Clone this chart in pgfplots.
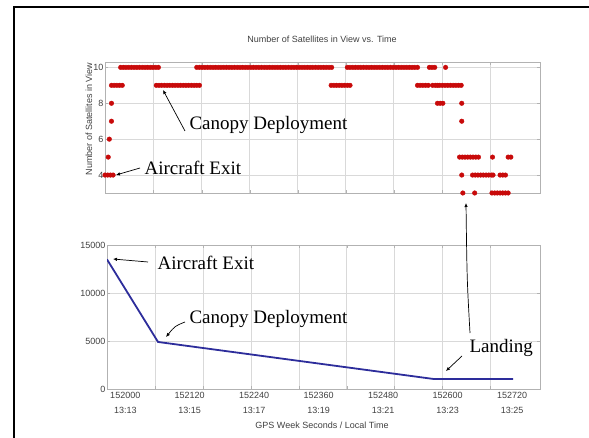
\documentclass[border=0pt]{standalone}
\usepackage{pgfplots}
\pgfplotsset{compat=1.18}
\usepackage{pgfplotstable}
\usepackage{fontspec}
\setmainfont{Liberation Serif}
\newfontfamily\arial{Liberation Sans}
\usetikzlibrary{arrows.meta}

\definecolor{satred}{RGB}{200,10,10}
\definecolor{altblue}{RGB}{45,45,155}

% satellites in view (GPS week seconds, count)
\pgfplotstableread{
t n
151966 4
151971 4
151976 4
151981 4
151972 5
151974 6
151978 7
151978 8
151978 9
151983 9
151988 9
151993 9
151998 9
151995 10
152000 10
152005 10
152010 10
152015 10
152020 10
152025 10
152030 10
152035 10
152040 10
152045 10
152050 10
152055 10
152060 10
152065 10
152061 9
152066 9
152071 9
152076 9
152081 9
152086 9
152091 9
152096 9
152101 9
152106 9
152111 9
152116 9
152121 9
152126 9
152131 9
152136 9
152141 9
152136 10
152141 10
152146 10
152151 10
152156 10
152161 10
152166 10
152171 10
152176 10
152181 10
152186 10
152191 10
152196 10
152201 10
152206 10
152211 10
152216 10
152221 10
152226 10
152231 10
152236 10
152241 10
152246 10
152251 10
152256 10
152261 10
152266 10
152271 10
152276 10
152281 10
152286 10
152291 10
152296 10
152301 10
152306 10
152311 10
152316 10
152321 10
152326 10
152331 10
152336 10
152341 10
152346 10
152351 10
152356 10
152361 10
152366 10
152371 10
152376 10
152381 10
152386 10
152385 9
152390 9
152395 9
152400 9
152405 9
152410 9
152415 9
152420 9
152415 10
152420 10
152425 10
152430 10
152435 10
152440 10
152445 10
152450 10
152455 10
152460 10
152465 10
152470 10
152475 10
152480 10
152485 10
152490 10
152495 10
152500 10
152505 10
152510 10
152515 10
152520 10
152525 10
152530 10
152535 10
152540 10
152545 10
152545 9
152550 9
152555 9
152560 9
152565 9
152567 10
152572 10
152577 10
152573 9
152578 9
152582 9
152582 8
152587 8
152592 8
152586 9
152591 9
152596 9
152601 9
152606 9
152611 9
152616 9
152621 9
152626 9
152597 10
152627 8
152627 7
152623 5
152628 5
152633 5
152638 5
152643 5
152648 5
152653 5
152658 5
152684 5
152713 5
152718 5
152627 4
152647 4
152652 4
152657 4
152662 4
152667 4
152672 4
152677 4
152682 4
152685 4
152698 4
152703 4
152708 4
152629 3
152651 3
152683 3
152688 3
152693 3
152698 3
152703 3
152708 3
152713 3
}\sats

% altitude
\pgfplotstableread{
t alt
151966 13500
152061 4900
152573 1050
152722 1050
}\alt

\begin{document}
\begin{tikzpicture}[x=1pt,y=1pt]
\path[use as bounding box] (0,0) rectangle (589,-438);
\draw[line width=2.5pt] (14,-438) -- (14,-7) -- (589,-7);

\pgfplotsset{
  every axis/.append style={
    scale only axis,
    anchor=north west,
    xmin=151966, xmax=152772,
    xtick={152056,152145,152234,152323,152412,152501,152590,152679},
    xticklabels={},
    scaled x ticks=false,
    scaled y ticks=false,
    grid=major,
    major grid style={gray!30, line width=0.5pt},
    axis line style={gray!60},
    tick style={gray!60},
    tick align=inside,
    major tick length=3pt,
    /pgf/number format/assume math mode=true,
    ticklabel style={font=\arial\fontsize{9}{10}\selectfont, text=black!75},
    yticklabel style={xshift=2pt},
  }
}

\begin{axis}[
  at={(105pt,-62pt)}, width=435pt, height=131pt,
  ymin=3, ymax=10.3,
  ytick={4,6,8,10},
]
\addplot[only marks, mark=*, mark size=2.3pt, color=satred] table[x=t, y=n] {\sats};
\end{axis}

\begin{axis}[
  at={(107pt,-245pt)}, width=433pt, height=144pt,
  ymin=0, ymax=15000,
  ytick={0,5000,10000,15000},
  yticklabels={0,5000,10000,15000},
  extra x ticks={152000,152120,152240,152360,152480,152600,152720},
  extra x tick labels={152000\\13:13,152120\\13:15,152240\\13:17,152360\\13:19,152480\\13:21,152600\\13:23,152720\\13:25},
  extra x tick style={grid=none, major tick length=0pt,
    ticklabel style={align=center, font=\arial\fontsize{9}{15}\selectfont}},
]
\addplot[color=altblue, line width=1.8pt] table[x=t, y=alt] {\alt};
\end{axis}

\node[font=\arial\fontsize{9}{10}\selectfont, text=black!75] at (322,-39) {Number of Satellites in View vs. Time};
\node[font=\arial\fontsize{9}{10}\selectfont, text=black!75, rotate=90] at (89,-119) {Number of Satellites in View};
\node[font=\arial\fontsize{9}{10}\selectfont, text=black!75] at (322,-425) {GPS Week Seconds / Local Time};

\tikzset{ann/.style={-{Latex[length=4pt,width=3.5pt]}, line width=0.7pt}}
\node[anchor=west, font=\fontsize{19}{20}\selectfont] at (141,-168) {Aircraft Exit};
\draw[ann] (140,-168) -- (116,-175);
\node[anchor=west, font=\fontsize{19}{20}\selectfont] at (186,-125) {Canopy Deployment};
\draw[ann] (185,-131) -- (163,-90);
\node[anchor=west, font=\fontsize{19}{20}\selectfont] at (154,-263) {Aircraft Exit};
\draw[ann] (148,-262) -- (113,-259);
\node[anchor=west, font=\fontsize{19}{20}\selectfont] at (186,-319) {Canopy Deployment};
\draw[ann] (185,-322) .. controls (175,-326) .. (166,-337);
\node[anchor=west, font=\fontsize{19}{20}\selectfont] at (466,-348) {Landing};
\draw[ann] (462,-356) -- (446,-371);
\draw[ann] (470,-333) .. controls (467,-280) .. (466,-203);
\end{tikzpicture}
\end{document}
